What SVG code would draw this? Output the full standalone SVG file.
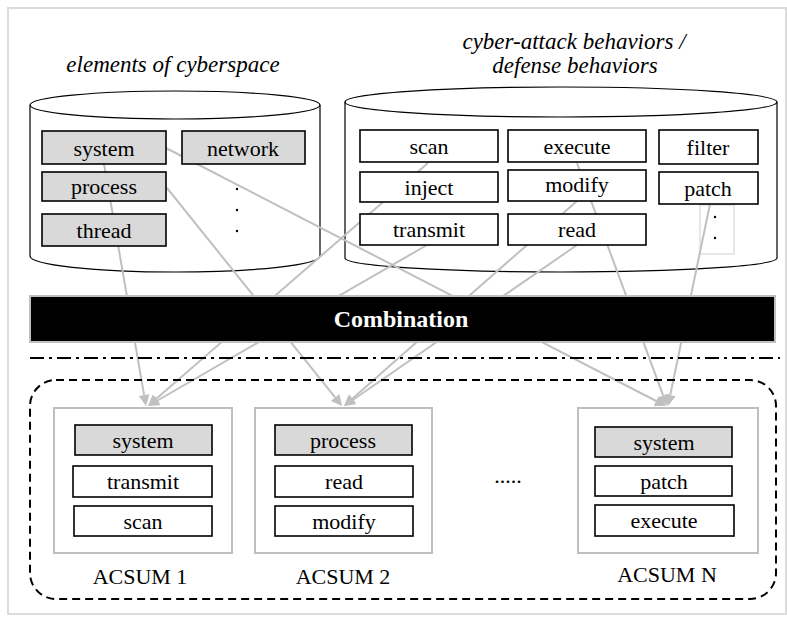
<svg xmlns="http://www.w3.org/2000/svg" width="787" height="617" viewBox="0 0 787 617">
<rect x="0" y="0" width="787" height="617" fill="#fff"/>
<rect x="8" y="8" width="778" height="606" fill="none" stroke="#dcdcdc" stroke-width="2"/>

<g id="titles" font-family="Liberation Serif" font-size="23" font-style="italic" text-anchor="middle" fill="#000">
  <text x="173" y="72">elements of cyberspace</text>
  <text x="574" y="49">cyber-attack behaviors /</text>
  <text x="575" y="73">defense behaviors</text>
</g>

<g id="cylinder-elements" fill="#fff" stroke="#000" stroke-width="1.2">
  <path d="M30,105 L30,256 A145,16 0 0 0 320,256 L320,105"/>
  <ellipse cx="175" cy="105" rx="145" ry="14"/>
</g>
<g id="cylinder-behaviors" fill="#fff" stroke="#000" stroke-width="1.2">
  <path d="M345,102 L345,258 A216,14 0 0 0 777,258 L777,102"/>
  <ellipse cx="561" cy="102" rx="216" ry="15"/>
</g>
<rect x="700" y="205" width="34" height="49" fill="none" stroke="#d0d0d0" stroke-width="1"/>

<g id="connectors">
  <g stroke="#c0c0c0" stroke-width="2" fill="none">
    <line x1="104" y1="164" x2="144.1" y2="395.2"/>
    <line x1="428" y1="163" x2="156.3" y2="398.8"/>
    <line x1="427" y1="245" x2="157.5" y2="400.5"/>
    <line x1="167" y1="188" x2="335.1" y2="397.4"/>
    <line x1="577" y1="201" x2="352.3" y2="398.7"/>
    <line x1="577" y1="245" x2="353.1" y2="399.7"/>
    <line x1="166" y1="148" x2="656.2" y2="401.0"/>
    <line x1="577" y1="163" x2="663.2" y2="395.7"/>
    <line x1="710" y1="204" x2="670.2" y2="395.2"/>
  </g>
  <g fill="#c0c0c0">
    <polygon points="146,406 138.7,396.1 149.5,394.2"/>
    <polygon points="148,406 152.7,394.6 159.9,403.0"/>
    <polygon points="148,406 154.8,395.7 160.3,405.3"/>
    <polygon points="342,406 330.8,400.9 339.4,394.0"/>
    <polygon points="344,406 348.7,394.6 355.9,402.8"/>
    <polygon points="344,406 349.9,395.2 356.2,404.3"/>
    <polygon points="666,406 653.7,405.9 658.7,396.1"/>
    <polygon points="667,406 658.0,397.6 668.4,393.8"/>
    <polygon points="668,406 664.9,394.1 675.6,396.3"/>
  </g>
</g>

<g id="elements" font-family="Liberation Serif" font-size="22" text-anchor="middle">
  <g id="node-system"><rect x="42" y="131" width="124" height="33" fill="#d9d9d9" stroke="#000" stroke-width="1.6"/><text x="104" y="156">system</text></g>
  <g id="node-network"><rect x="182" y="131" width="123" height="33" fill="#d9d9d9" stroke="#000" stroke-width="1.6"/><text x="243" y="156">network</text></g>
  <g id="node-process"><rect x="42" y="172" width="124" height="29" fill="#d9d9d9" stroke="#000" stroke-width="1.6"/><text x="104" y="194">process</text></g>
  <g id="node-thread"><rect x="42" y="214" width="124" height="32" fill="#d9d9d9" stroke="#000" stroke-width="1.6"/><text x="104" y="238">thread</text></g>
</g>
<g id="dots-elements" fill="#000">
  <circle cx="237" cy="189" r="1.2"/>
  <circle cx="237" cy="210" r="1.2"/>
  <circle cx="237" cy="231" r="1.2"/>
</g>

<g id="behaviors" font-family="Liberation Serif" font-size="22" text-anchor="middle">
  <g id="node-scan"><rect x="360" y="130" width="138" height="32" fill="#fff" stroke="#000" stroke-width="1.6"/><text x="429" y="154">scan</text></g>
  <g id="node-inject"><rect x="360" y="172" width="138" height="30" fill="#fff" stroke="#000" stroke-width="1.6"/><text x="429" y="195">inject</text></g>
  <g id="node-transmit"><rect x="360" y="214" width="138" height="31" fill="#fff" stroke="#000" stroke-width="1.6"/><text x="429" y="237">transmit</text></g>
  <g id="node-execute"><rect x="508" y="130" width="138" height="32" fill="#fff" stroke="#000" stroke-width="1.6"/><text x="577" y="154">execute</text></g>
  <g id="node-modify"><rect x="508" y="170" width="138" height="31" fill="#fff" stroke="#000" stroke-width="1.6"/><text x="577" y="192">modify</text></g>
  <g id="node-read"><rect x="508" y="214" width="138" height="31" fill="#fff" stroke="#000" stroke-width="1.6"/><text x="577" y="237">read</text></g>
  <g id="node-filter"><rect x="659" y="130" width="99" height="34" fill="#fff" stroke="#000" stroke-width="1.6"/><text x="708" y="155">filter</text></g>
  <g id="node-patch"><rect x="659" y="172" width="99" height="32" fill="#fff" stroke="#000" stroke-width="1.6"/><text x="708" y="196">patch</text></g>
</g>
<g id="dots-behaviors" fill="#000">
  <circle cx="715" cy="217" r="1.2"/>
  <circle cx="715" cy="238" r="1.2"/>
</g>

<g id="node-combination">
  <rect x="30" y="296" width="745" height="46" fill="#000" stroke="#bfbfbf" stroke-width="2"/>
  <text x="401" y="327" font-family="Liberation Serif" font-size="24" font-weight="bold" text-anchor="middle" fill="#fff">Combination</text>
</g>

<line x1="30" y1="358" x2="780" y2="358" stroke="#000" stroke-width="2" stroke-dasharray="14 5 3 5"/>
<rect x="30" y="380" width="746" height="219" rx="26" ry="26" fill="none" stroke="#000" stroke-width="2" stroke-dasharray="8 5"/>

<g id="acsum-1" font-family="Liberation Serif" font-size="22" text-anchor="middle">
  <rect x="54" y="408" width="178" height="145" fill="#fff" stroke="#bfbfbf" stroke-width="2"/>
  <rect x="75" y="425" width="137" height="30" fill="#d9d9d9" stroke="#000" stroke-width="1.6"/><text x="143" y="448">system</text>
  <rect x="73" y="466" width="139" height="31" fill="#fff" stroke="#000" stroke-width="1.6"/><text x="143" y="489">transmit</text>
  <rect x="74" y="506" width="138" height="30" fill="#fff" stroke="#000" stroke-width="1.6"/><text x="143" y="529">scan</text>
  <text x="140" y="584">ACSUM 1</text>
</g>
<g id="acsum-2" font-family="Liberation Serif" font-size="22" text-anchor="middle">
  <rect x="255" y="408" width="177" height="145" fill="#fff" stroke="#bfbfbf" stroke-width="2"/>
  <rect x="275" y="425" width="137" height="30" fill="#d9d9d9" stroke="#000" stroke-width="1.6"/><text x="343" y="448">process</text>
  <rect x="275" y="466" width="138" height="31" fill="#fff" stroke="#000" stroke-width="1.6"/><text x="344" y="489">read</text>
  <rect x="275" y="506" width="138" height="30" fill="#fff" stroke="#000" stroke-width="1.6"/><text x="344" y="529">modify</text>
  <text x="343" y="584">ACSUM 2</text>
</g>
<text x="508" y="483" font-family="Liberation Serif" font-size="22" text-anchor="middle">.....</text>
<g id="acsum-n" font-family="Liberation Serif" font-size="22" text-anchor="middle">
  <rect x="578" y="408" width="180" height="145" fill="#fff" stroke="#bfbfbf" stroke-width="2"/>
  <rect x="595" y="427" width="137" height="30" fill="#d9d9d9" stroke="#000" stroke-width="1.6"/><text x="664" y="450">system</text>
  <rect x="595" y="466" width="137" height="30" fill="#fff" stroke="#000" stroke-width="1.6"/><text x="664" y="489">patch</text>
  <rect x="595" y="505" width="139" height="31" fill="#fff" stroke="#000" stroke-width="1.6"/><text x="664" y="528">execute</text>
  <text x="667" y="582">ACSUM N</text>
</g>
</svg>
